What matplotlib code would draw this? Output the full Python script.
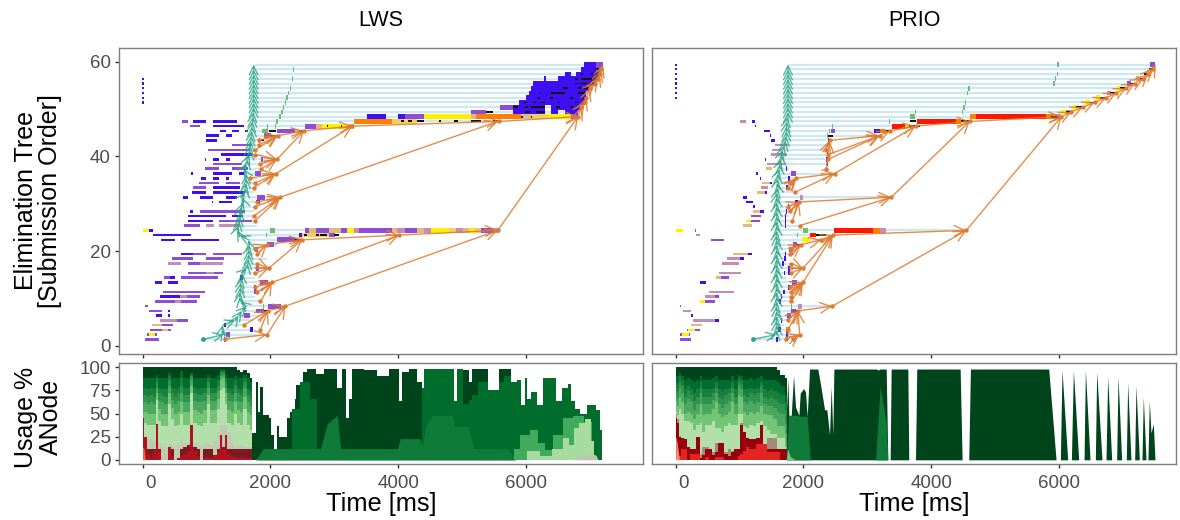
# Gantt of the elimination tree and node usage, LWS against PRIO
import matplotlib
matplotlib.use('Agg')
import matplotlib.pyplot as plt
from matplotlib.transforms import ScaledTranslation

plt.rcParams['font.family'] = ['Liberation Sans', 'DejaVu Sans']

schedulers = ['LWS', 'PRIO']
time_ticks = [0, 2000, 4000, 6000]
tree_ticks = [0, 20, 40, 60]
usage_ticks = [0, 25, 50, 75, 100]

# tasks: row, start ms, end ms, kind
lws_early = [
    (1,37,257,'p'),(2,73,105,'p'),(2,105,194,'y'),(2,194,220,'p'),(3,115,298,'p'),(3,298,393,'t'),(3,393,440,'p'),
    (4,152,298,'t'),(4,298,482,'p'),(5,272,534,'k'),(5,534,717,'p'),(6,209,298,'b'),(6,393,429,'b'),
    (7,105,298,'p'),(7,393,429,'b'),(8,37,89,'p'),(9,194,508,'p'),(9,508,597,'k'),(9,597,859,'p'),
    (10,272,586,'b'),(10,586,691,'k'),(10,691,900,'p'),(11,325,979,'p'),(13,194,298,'b'),(13,393,550,'b'),
    (14,335,430,'p'),(14,430,508,'b'),(14,597,1178,'p'),(15,717,995,'p'),(15,995,1110,'k'),(15,1110,1257,'p'),
    (17,393,597,'k'),(17,707,900,'p'),(17,900,1257,'k'),(18,456,796,'p'),(18,995,1272,'p'),
    (19,597,796,'b'),(19,796,995,'p'),(19,1100,1555,'p'),(22,288,508,'b'),(22,597,1199,'b'),(23,168,754,'b'),
    (24,10,105,'y'),(24,105,168,'b'),(25,654,900,'p'),(25,995,1110,'k'),(25,1199,1529,'k'),
    (26,707,1100,'b'),(26,1199,1712,'p'),(27,717,1304,'b'),(27,1398,1566,'b'),(28,743,796,'b'),(28,900,1607,'p'),
    (30,1094,1105,'b'),(30,1199,1398,'b'),(31,639,707,'b'),(31,900,1100,'b'),(31,1304,1477,'b'),
    (32,780,990,'b'),(32,1100,1607,'b'),(33,796,990,'p'),(33,1100,1519,'b'),(34,885,1199,'p'),(34,1309,1529,'p'),
    (35,916,995,'b'),(35,1100,1199,'b'),(35,1309,1346,'b'),(36,759,796,'b'),(36,1100,1398,'b'),(36,1503,1592,'b'),
    (37,979,1199,'p'),(37,1398,1644,'p'),(38,1100,1555,'p'),(39,979,995,'b'),(39,1100,1199,'b'),(39,1304,1372,'b'),
    (40,1230,1712,'b'),(41,1016,1676,'p'),(42,1398,1712,'p'),(43,995,1162,'b'),(44,995,1199,'b'),(44,1309,1398,'b'),
    (45,1215,1304,'b'),(45,1398,1503,'b'),(45,1597,1644,'b'),(46,743,900,'p'),(46,1100,1581,'b'),
    (47,623,707,'p'),(47,796,995,'b'),(47,1100,1477,'b'),
]
lws_late = [
    (1,1267,1293,'b'),(2,1309,1372,'p'),(3,1686,1723,'b'),(4,1278,1309,'b'),(6,1592,1686,'p'),(7,1780,1895,'p'),
    (8,1958,2173,'p'),(11,1738,1791,'p'),(12,1750,1775,'b'),(13,1843,1963,'p'),(14,1529,1570,'b'),(16,1780,1822,'p'),
    (20,1765,1806,'p'),(21,1948,2063,'p'),(22,2105,2393,'p'),(22,2393,2498,'t'),(23,2456,2498,'b'),(23,2498,2916,'g'),
    (23,2916,3020,'p'),(24,2550,2600,'p'),(24,2600,2707,'t'),(24,2707,2916,'p'),(24,2916,3100,'t'),(24,3100,3204,'p'),
    (24,3204,3309,'y'),(24,3309,3388,'k'),(24,3388,3911,'p'),(24,3911,3990,'t'),(24,3990,4105,'k'),(24,4105,4304,'p'),
    (24,4304,4409,'t'),(24,4409,4514,'k'),(24,4514,4802,'y'),(24,4802,4906,'g'),(24,4906,5011,'k'),(24,5011,5116,'t'),
    (24,5116,5194,'y'),(24,5194,5299,'g'),(24,5299,5482,'p'),(24,5482,5586,'k'),
    (31,1791,1922,'p'),(30,1780,1843,'b'),(36,1765,1859,'p'),(39,1853,1885,'p'),(43,1817,1843,'p'),(44,1895,2010,'p'),
    (45,2105,2393,'p'),(45,2393,2456,'t'),(46,2540,2707,'p'),(46,2707,2812,'t'),(46,2812,3204,'y'),(46,3204,3309,'t'),
    (47,3309,3900,'o'),(47,3900,4300,'g'),(48,3518,3806,'b'),(48,4000,4105,'b'),(48,4105,4409,'p'),(48,4409,5142,'y'),
    (48,5142,5220,'t'),(48,5220,5928,'o'),(48,5928,6084,'t'),(48,6084,6340,'g'),(48,6340,6713,'y'),(48,6713,6817,'p'),
    (49,5142,5381,'p'),(49,5796,6293,'b'),(49,6398,6503,'b'),(49,6608,6817,'b'),(50,5602,5796,'p'),(50,5796,6293,'b'),
    (50,6398,6870,'b'),(51,5901,6922,'b'),(52,6005,6948,'b'),(53,6047,6948,'b'),(54,6084,7001,'b'),(55,6110,7079,'b'),
    (56,6283,6320,'b'),(56,6503,7131,'b'),(57,6608,6712,'b'),(57,6791,7158,'b'),(58,6870,7100,'b'),(58,7100,7184,'p'),
    (59,6912,7100,'b'),(59,7100,7210,'p'),
]
lws_black = [
    (7,1895,1958),(22,2393,2498),(23,2524,2576),(23,2707,2760),(23,2785,2890),(23,2995,3073),(43,1843,1906),(44,2010,2115),
    (45,1974,2089),(45,2456,2540),(46,2890,2905),(46,3100,3126),(46,3246,3262),(47,4047,4100),(47,4152,4225),(47,4304,4409),
    (47,4645,4670),(47,4880,4935),(47,5142,5299),(47,5482,5560),(48,5928,5960),(48,6084,6100),(49,5381,5482),(49,5980,6058),
    (49,6162,6293),(50,5796,5875),(50,5980,6032),(50,6084,6293),(50,6477,6529),(50,6686,6739),(50,6817,6870),(51,5953,6032),
    (51,6110,6162),(51,6215,6293),(51,6503,6529),(51,6765,6817),(52,6189,6230),(52,6372,6424),(52,6686,6739),(52,6843,6895),
    (53,6215,6241),(53,6398,6608),(53,6817,6922),(54,6582,6660),(54,6817,7001),(55,6765,6817),(55,6843,7105),(56,6765,6817),
    (56,6870,7131),(57,6870,6895),(57,7027,7158),(58,7105,7184),
]
lws_dots = [51, 52, 53, 54, 55, 56]
lws_green_marks = [
    (58,2355,2375),(56,2340,2360),(54,2305,2325),(53,2278,2298),(52,2252,2272),(51,2226,2246),(50,2200,2220),(49,2170,2195),
    (48,2130,2170),(47,2095,2115),(46,2070,2090),(46,1950,1970),(45,1870,1958),(24,2000,2079),(23,1925,1945),(8,1885,1905),
]
lws_submit = [953,1267,1241,1257,1450,1503,1555,1623,1529,1518,1529,1529,1539,1555,1555,1634,1649,1660,1660,1660,1676,1660,1518,1477,
              1503,1518,1529,1529,1555,1581,1555,1607,1607,1623,1623,1623,1581,1634,1644,1676,1676,1686,1696,1702,1712,1712,1723,1728,
              1738,1738,1738,1738,1738,1738,1738,1738,1738,1738,1738]
lws_finish = [1293,1948,1712,1581,1738,1843,1948,2210,1843,1765,1791,1765,2026,1765,1791,1948,1791,1948,1738,1791,2105,2471,2995,5561,
              1791,1765,1765,1738,1791,1869,2157,1738,1765,1791,1765,2079,1843,1843,2105,1869,1765,1817,1895,2105,2524,3283,5586,6817,
              6840,6870,6922,6948,6975,7001,7079,7131,7158,7184,7210]
lws_links = [
    (1293,1,1948,2),(1948,2,2236,8),(1581,4,1958,7),(1843,3,1958,7),(1958,7,2236,8),(2236,8,5561,24),(1843,9,2026,13),
    (1791,11,2026,13),(1765,12,2026,13),(2026,13,4016,23),(1765,15,1974,16),(1791,17,1974,16),(1974,16,2498,22),
    (1791,19,1948,21),(1765,20,1948,21),(1948,21,2498,22),(2498,22,4016,23),(4016,23,5561,24),(1757,26,2157,31),
    (1765,29,2157,31),(1791,30,2157,31),(1738,27,2157,31),(2157,31,5561,47),(1738,33,2089,36),(1765,34,2089,36),
    (1686,35,2089,36),(2089,36,3283,46),(1859,37,2105,39),(1843,38,2105,39),(1765,40,2105,39),(2105,39,2524,45),
    (1817,43,2115,44),(1765,41,2115,44),(1817,42,2115,44),(2115,44,2524,45),(2524,45,3283,46),(3283,46,5586,47),
    (5586,47,6817,48),(5561,24,6817,48),(6817,48,6870,50),(6870,50,6922,51),(6922,51,6948,52),(6948,52,7001,54),
    (7001,54,7079,55),(7079,55,7131,56),(7131,56,7158,57),(7158,57,7184,58),(7184,58,7210,59),
]

prio_early = [
    (1,63,245,'p'),(2,63,104,'p'),(2,104,209,'y'),(2,209,230,'p'),(3,183,193,'p'),(3,193,298,'y'),(3,298,386,'p'),
    (4,245,418,'t'),(5,271,611,'k'),(5,611,673,'b'),(6,245,271,'b'),(7,115,245,'k'),(8,63,89,'p'),(9,376,454,'y'),
    (9,454,611,'p'),(10,454,611,'k'),(10,611,673,'p'),(11,517,908,'k'),(13,376,480,'b'),(14,626,715,'t'),(14,715,835,'p'),
    (15,673,1018,'k'),(17,731,987,'k'),(18,809,1002,'k'),(18,1002,1065,'b'),(19,903,1133,'t'),(19,1133,1200,'b'),
    (22,548,752,'p'),(23,313,386,'k'),(24,10,115,'y'),(24,298,324,'p'),(25,1054,1200,'t'),(26,1107,1185,'y'),(26,1185,1326,'p'),
    (27,1174,1336,'p'),(28,1211,1315,'t'),(28,1315,1378,'b'),(29,1211,1237,'b'),(30,1096,1211,'b'),(31,1054,1117,'b'),
    (32,1274,1394,'t'),(32,1394,1430,'b'),(33,1331,1446,'k'),(34,1347,1472,'t'),(34,1472,1514,'b'),(35,1315,1341,'b'),
    (36,1263,1289,'b'),(37,1409,1503,'t'),(38,1436,1707,'k'),(39,1394,1420,'b'),(40,1488,1743,'k'),(41,1503,1670,'k'),
    (42,1550,1754,'k'),(43,1498,1550,'b'),(44,1472,1488,'b'),(45,1378,1472,'b'),(46,1237,1263,'b'),(47,1007,1107,'k'),(47,1195,1248,'b'),
]
prio_late = [
    (1,1576,1608,'b'),(1,1707,1733,'o'),(2,1723,1754,'b'),(3,1603,1644,'b'),(3,1733,1785,'o'),(5,1644,1670,'b'),(6,1749,1801,'p'),
    (7,1811,1890,'p'),(8,1916,1984,'k'),(9,1618,1644,'b'),(10,1644,1665,'b'),(11,1681,1707,'b'),(12,1759,1785,'b'),(13,1827,1900,'p'),
    (15,1691,1717,'b'),(15,1759,1796,'b'),(16,1759,1796,'b'),(16,1796,1837,'t'),(17,1665,1691,'b'),(18,1696,1723,'b'),(19,1707,1733,'b'),
    (20,1775,1837,'p'),(21,1837,1900,'p'),(22,1984,2098,'y'),(23,2098,2203,'r'),(24,2474,3090,'r'),(24,3090,3195,'o'),(24,3195,3289,'k'),
    (25,1707,1723,'b'),(26,1712,1728,'b'),(27,1712,1723,'b'),(28,1723,1738,'b'),(29,1759,1775,'b'),(30,1864,1916,'b'),(31,1942,1994,'k'),
    (32,1723,1733,'b'),(33,1733,1759,'b'),(34,1759,1811,'k'),(35,1759,1796,'b'),(36,1811,1890,'p'),(37,1733,1749,'b'),(38,2370,2380,'b'),
    (39,2359,2375,'b'),(40,2375,2386,'b'),(42,2375,2386,'b'),(43,2386,2402,'b'),(45,2427,2500,'p'),(45,3101,3195,'b'),(45,3195,3299,'o'),
    (46,3388,3586,'r'),(46,3586,3654,'y'),(47,3779,4395,'r'),(47,4395,4473,'o'),(48,4604,4698,'o'),(48,4698,5804,'r'),(48,5804,5909,'o'),
    (48,5909,6040,'k'),(49,6040,6118,'y'),(49,6118,6222,'k'),(50,6222,6300,'y'),(51,6405,6483,'y'),(52,6588,6640,'y'),(53,6755,6823,'k'),
    (54,6912,6979,'y'),(55,7068,7136,'p'),(56,7204,7267,'t'),(57,7397,7425,'t'),(59,7433,7507,'p'),
]
prio_black = [
    (7,1890,1921),(19,1775,1837),(21,1900,1984),(23,2203,2359),(44,2386,2464),(45,3299,3377),(46,3654,3821),(47,3664,3769),(47,4473,4604),
    (48,5883,6040),(49,6118,6222),(50,6275,6405),(51,6457,6561),(52,6640,6744),(53,6797,6901),(54,6953,7058),(55,7110,7188),(56,7267,7319),
    (57,7329,7397),(58,7412,7476),
]
prio_dots = [52, 53, 54, 55, 56, 57, 58, 59]
prio_green_marks = [
    (59,5977,5997),(57,5967,5987),(56,5941,5961),(55,5915,5935),(54,4584,4604),(53,4557,4577),(51,4531,4551),(50,4505,4525),(49,4479,4499),
    (49,3748,3768),(48,3664,3743),(47,3341,3361),(46,2443,2463),(45,2402,2422),(44,2365,2385),(24,1994,2072),(23,1900,1920),(8,1801,1821),
]
prio_submit = [1211,1576,1587,1576,1576,1587,1576,1576,1587,1576,1587,1576,1587,1576,1587,1576,1587,1576,1587,1576,1587,1576,1576,1587,
               1576,1587,1576,1587,1576,1587,1576,1587,1603,1587,1603,1603,1629,1629,1655,1655,1681,1707,1723,1733,1733,1733,1743,1759,
               1759,1759,1759,1759,1759,1759,1759,1759,1759,1759,1759]
prio_finish = [1723,1942,1759,1700,1759,1790,1916,2453,1811,1811,1811,1785,1994,1730,1811,1994,1811,1740,1785,1811,1968,2281,2464,4552,
               1942,1827,1770,1790,1800,1932,3377,1864,1759,1811,1890,2490,1780,2386,2386,2386,2386,2386,2412,3195,3351,3758,4604,6040,
               6196,6379,6561,6744,6901,7058,7188,7320,7398,7476,7517]
prio_links = [
    (1723,1,1942,2),(1837,1,1942,2),(1759,3,1916,7),(1759,5,1916,7),(1942,2,1916,7),(1916,7,2453,8),(2453,8,4552,24),
    (1811,10,1994,13),(1811,9,1994,13),(1785,12,1994,13),(1811,11,1994,13),(1994,13,2464,23),(1811,15,1994,16),(1811,17,1994,16),
    (1994,16,2464,23),(1785,19,1968,21),(1811,20,1968,21),(1968,21,2281,22),(2281,22,2464,23),(2464,23,4552,24),(1827,26,1932,30),
    (1785,28,1932,30),(1759,29,1932,30),(1932,30,3377,31),(1942,25,3377,31),(3377,31,4604,47),(1864,32,2490,36),(1890,35,2490,36),
    (1811,34,1890,35),(1759,33,1890,35),(2490,36,3758,46),(2359,37,2412,43),(2359,41,2412,43),(2386,39,3195,44),(2386,40,3195,44),
    (2412,43,3195,44),(3195,44,3351,45),(3351,45,3758,46),(3758,46,4604,47),(4604,47,6040,48),(4552,24,6040,48),(6040,48,6196,49),
    (6196,49,6379,50),(6379,50,6561,51),(6561,51,6744,52),(6744,52,6901,53),(6901,53,7058,54),(7058,54,7188,55),(7188,55,7320,56),
    (7320,56,7398,57),(7398,57,7476,58),(7476,58,7517,59),
]

# usage %, first 1750 ms: tops of the stacked bands
lws_band_time = [0,39,91,143,185,222,258,310,362,420,467,519,571,613,665,717,769,821,873,926,978,1030,1082,1134,1186,1228,1265,1301,1353,1405,1447,1499,1551,1603,1656,1718]
lws_bright = [45,25,6,2,8,39,8,0,0,14,4,0,2,4,6,10,38,10,4,0,3,3,2,5,8,27,12,27,6,3,3,2,3,2,2,2]
lws_dark = [12,12,12,12,12,12,12,0,0,12,12,0,0,12,14,16,16,14,12,0,12,12,12,4,12,14,14,14,12,12,12,12,12,12,12,12]
lws_grey = [23,23,23,23,20,25,18,14,14,16,16,14,16,23,18,18,30,18,16,14,16,18,16,20,30,38,38,38,30,18,14,16,16,14,14,14]
lws_b1 = [38,40,38,38,38,65,42,36,36,60,44,36,38,50,38,38,72,40,38,36,40,60,40,40,55,75,78,60,40,38,50,40,38,55,38,32]
lws_b2 = [50,52,50,50,50,72,55,50,50,72,56,50,52,62,52,52,80,54,52,50,54,70,54,54,66,86,88,72,54,52,62,54,52,68,52,48]
lws_b3 = [60,62,60,62,60,78,64,62,60,80,65,60,64,72,62,62,86,64,62,62,64,78,64,64,74,90,92,78,64,62,72,64,62,78,62,58]
lws_b4 = [68,70,68,70,68,84,72,70,68,86,72,68,72,80,70,70,90,72,70,70,72,84,72,72,80,94,95,84,72,70,80,72,70,84,70,66]
lws_b5 = [76,78,76,78,76,88,78,76,76,90,78,76,78,88,78,78,92,78,76,78,78,88,78,78,86,96,96,88,78,76,86,78,76,88,76,74]
lws_b6 = [88,88,88,88,88,92,88,88,88,94,88,88,88,96,88,88,94,88,88,88,88,92,88,88,92,98,98,92,88,88,90,88,88,92,88,84]
lws_b7 = [100,100,100,100,100,100,100,100,100,100,100,100,100,100,100,100,100,100,100,100,100,100,100,100,100,100,100,100,100,100,100,97,95,97,94,88]
lws_hot_time = [0,20,40]
lws_hot = [14,12,0]

prio_band_time = [0,31,63,110,162,198,240,292,355,396,438,490,543,595,636,683,735,787,840,892,944,996,1033,1075,1127,1179,1231,1283,1351,1398,1450,1502,1554,1606,1674,1737]
prio_bright = [12,8,4,12,12,0,6,6,6,0,0,3,0,0,3,3,3,0,0,0,0,4,6,10,14,12,12,17,17,17,8,8,8,8,0,0]
prio_dark = [45,40,25,24,23,14,12,12,25,2,5,12,12,5,8,18,18,6,4,8,12,12,38,30,24,22,22,24,38,14,12,12,12,12,12,12]
prio_grey = [50,44,26,24,23,14,12,12,25,6,14,14,12,8,18,18,18,8,12,10,12,12,40,30,24,22,22,24,38,16,24,24,24,12,12,12]
prio_b1 = [52,48,55,50,42,42,40,32,38,40,30,38,38,42,34,34,30,36,40,38,38,50,50,36,34,38,36,40,42,36,32,28,28,24,24,14]
prio_b2 = [62,58,68,62,50,52,50,44,50,60,48,50,50,55,62,50,46,48,52,62,50,70,68,52,48,52,50,52,58,50,48,48,44,36,36,28]
prio_b3 = [70,66,78,72,60,66,62,54,60,72,60,60,60,65,72,60,56,60,64,72,60,80,76,62,60,64,60,62,72,60,58,58,56,52,50,40]
prio_b4 = [78,74,84,80,68,74,70,64,68,78,68,68,68,72,78,68,66,70,72,78,68,84,82,70,68,72,70,72,80,68,66,68,66,62,60,54]
prio_b5 = [84,82,90,86,76,80,76,72,76,84,76,76,76,78,84,76,74,76,78,84,76,88,86,76,76,78,76,78,84,76,74,76,74,72,70,62]
prio_b6 = [90,90,94,90,86,88,86,84,86,90,86,86,86,88,90,86,86,86,86,90,86,92,90,86,86,88,86,88,90,86,86,86,86,84,80,70]
prio_b7 = [100,100,100,100,100,100,100,100,100,100,100,100,100,100,100,100,100,100,100,100,100,100,100,100,100,100,100,100,100,100,100,100,100,97,92,88]
prio_hot_time = [0,20,40,60]
prio_hot = [25,20,10,0]

# usage %, rest of the run
lws_top_time = [1712,1728,1765,1791,1817,1869,1906,1948,2000,2026,2079,2115,2157,2236,2288,2325,2367,2393,2403,2498,2524,2628,2786,2890,2995,3100,3152,3220,3257,3309,3623,3728,3990,4032,4095,4252,4356,4383,4435,4854,4896,4958,5089,5142,5168,5325,5482,5561,5613,5718,5822,5901,5964,6016,6032,6137,6215,6320,6451,6503,6634,6686,6739,6791,6896,7027,7158,7168,7210]
lws_top = [0,29,29,84,52,79,48,48,45,27,12,36,25,25,45,52,39,66,81,81,95,98,93,98,98,77,98,45,66,98,97,90,98,63,95,98,84,77,98,98,64,98,97,84,98,98,75,75,98,98,84,86,59,88,66,73,59,88,88,63,77,82,64,55,50,59,54,32,0]
lws_mid_time = [4356,4383,4435,4854,4896,4958,5089,5142,5168,5325,5482,5561,5613,5718,5822,5901,5964,6016,6032,6137,6215,6320,6451,6503,6634,6686,6739,6791,6896,7027,7158,7168,7210]
lws_mid = [0,77,98,98,64,98,60,65,70,84,75,75,84,90,84,86,59,88,66,73,59,88,88,63,77,82,64,55,50,59,54,32,0]
lws_high_time = [2288,2393,2550,2707,2760,3000]
lws_high = [0,55,84,66,0,0]
lws_low_time = [1765,1895,2157,2786,2890,3048,3100,3204,3990,4032,4340,4383,4435,4535,4854,4880,5089,5194,5482,5561,5718,5840]
lws_low = [0,12,12,12,39,48,12,12,12,23,23,16,36,48,48,36,36,12,12,12,12,0]
lws_bar_time = [1800,1880,2157,5482,5561,5700,5840]
lws_bar = [0,12,12,12,0,12,0]
lws_tail_time = [5800,5830,5987,6144,6250,6354,6511,6642,6825,6982,7090,7120]
lws_tail = [0,12,27,32,18,11,27,45,47,41,5,0]
lws_tail2_time = [5900,6144,6300,6511,6642,6720,6800,6878,6982,7050,7090]
lws_tail2 = [0,10,4,12,24,16,34,40,44,20,5]
lws_tail3_time = [6750,6830,7015,7100,7130]
lws_tail3 = [0,5,5,5,0]

prio_top_time = [1732,1758,1773,1810,1846,1878,1930,1951,2003,2034,2060,2097,2227,2279,2332,2368,2410,2436,2462,2478,3140,3171,3203,3297,3323,3359,3375,3636,3651,3756,3776,4455,4486,4590,4616,5842,5957,6024,6050,6139,6197,6228,6311,6395,6416,6489,6572,6593,6676,6739,6765,6828,6906,6927,6984,7057,7078,7130,7188,7208,7261,7302,7323,7365,7396,7417,7443,7480,7506]
prio_top = [48,88,48,48,91,57,48,72,77,73,47,98,98,77,54,54,27,79,27,98,98,97,98,98,0,0,98,98,0,0,98,98,0,0,98,98,0,0,97,0,0,97,0,0,97,0,0,95,0,0,90,0,0,90,0,0,83,0,0,80,0,0,68,0,0,64,29,39,0]
prio_mid_time = [1732,1770,1880,1960,2060,2110,3130,3203,3297,3323]
prio_mid = [0,48,48,47,47,0,0,79,40,0]
prio_low_time = [1732,1750,1800,1880,1960]
prio_low = [0,12,3,0,0]

colors = {'b': '#3d0ff2', 'p': '#8e4dd6', 'k': '#c48cb8', 't': '#e2b97f', 'y': '#fff200', 'g': '#f0d060', 'o': '#ff7f00', 'r': '#ff1500'}
green_arrow = '#2aa584'
orange_arrow = '#e07a2e'
greens = ['#00441b', '#006d2c', '#1a7f3c', '#2f9350', '#4aa860', '#74c476', '#b2dfaa']


def draw_tree(ax, early, late, black, dots, marks, submit, finish, links):
    rows = list(range(1, 60))
    # rows sit between the integer grid
    y_of = lambda r: r + 0.4
    for r, s, f in zip(rows, submit, finish):
        ax.plot([s, f], [y_of(r), y_of(r)], color='#cfe8ef', lw=1.6, zorder=1, solid_capstyle='butt')
    for r, s, f, k in early:
        ax.barh(y_of(r), f - s, left=s, height=0.55, color=colors[k], lw=0, zorder=2)
    for r, s, f, k in late:
        ax.barh(y_of(r), f - s, left=s, height=1.0, color=colors[k], lw=0, zorder=2)
    for r, s, f in black:
        ax.barh(y_of(r), f - s, left=s, height=0.4, color='#111111', lw=0, zorder=3)
    for r, s, f in marks:
        ax.barh(y_of(r), f - s, left=s, height=1.0, color='#6dbb75', lw=0, zorder=3)
    for r in dots:
        ax.barh(y_of(r), 25, left=-10, height=0.45, color=colors['b'], lw=0, zorder=2)
    head = '->,head_length=0.7,head_width=0.35'
    for i in range(len(rows) - 1):
        ax.annotate('', xy=(submit[i + 1], y_of(rows[i + 1])), xytext=(submit[i], y_of(rows[i])), zorder=4,
                    arrowprops=dict(arrowstyle=head, color=green_arrow, lw=1.0, alpha=0.8, shrinkA=0, shrinkB=0, mutation_scale=9))
    ax.scatter(submit[:1], [y_of(1)], s=12, color=green_arrow, lw=0, zorder=4)
    for x0, r0, x1, r1 in links:
        ax.annotate('', xy=(x1, y_of(r1)), xytext=(x0, y_of(r0)), zorder=5,
                    arrowprops=dict(arrowstyle=head, color=orange_arrow, lw=1.0, alpha=0.85, shrinkA=0, shrinkB=0, mutation_scale=11))
    ax.scatter([l[0] for l in links], [y_of(l[1]) for l in links], s=10, color=orange_arrow, lw=0, zorder=5)


def draw_usage(ax, t, bands, band_colors):
    # bands go from the highest top to the lowest, painted over each other
    for top, c in zip(bands, band_colors):
        ax.fill_between(t, 0, top, color=c, lw=0, step='mid')


fig = plt.figure(figsize=(11.8, 5.2), dpi=100)
W, H = 1180.0, 520.0
lefts = [119, 652]
width = 524
axes_top = []
axes_bottom = []
for l in lefts:
    axes_top.append(fig.add_axes([l / W, 1 - 354 / H, width / W, 306 / H]))
    axes_bottom.append(fig.add_axes([l / W, 1 - 464 / H, width / W, 101 / H]))

draw_tree(axes_top[0], lws_early, lws_late, lws_black, lws_dots, lws_green_marks, lws_submit, lws_finish, lws_links)
draw_tree(axes_top[1], prio_early, prio_late, prio_black, prio_dots, prio_green_marks, prio_submit, prio_finish, prio_links)

ax = axes_bottom[0]
draw_usage(ax, lws_band_time, [lws_b7, lws_b6, lws_b5, lws_b4, lws_b3, lws_b2, lws_b1, lws_grey, lws_dark, lws_bright],
           greens + ['#c2c9b0', '#7c1a24', '#b3121c'])
ax.fill_between(lws_hot_time, 0, lws_hot, color='#fb6a4a', lw=0)
ax.fill_between(lws_top_time, 0, lws_top, color='#00441b', lw=0, step='mid')
ax.fill_between(lws_high_time, 0, lws_high, color='#006d2c', lw=0, step='mid')
ax.fill_between(lws_mid_time, 0, lws_mid, color='#006d2c', lw=0, step='mid')
ax.fill_between(lws_low_time, 0, lws_low, color='#107a38', lw=0)
ax.fill_between(lws_bar_time, 0, lws_bar, color='#107a38', lw=0)
ax.fill_between(lws_tail_time, 0, lws_tail, color='#41ab5d', lw=0, step='mid')
ax.fill_between(lws_tail2_time, 0, lws_tail2, color='#a8dba0', lw=0, step='mid')
ax.fill_between(lws_tail3_time, 0, lws_tail3, color='#bdc7ae', lw=0)

ax = axes_bottom[1]
draw_usage(ax, prio_band_time, [prio_b7, prio_b6, prio_b5, prio_b4, prio_b3, prio_b2, prio_b1, prio_grey, prio_dark, prio_bright],
           greens + ['#a58a7c', '#99000d', '#e32420'])
ax.fill_between(prio_hot_time, 0, prio_hot, color='#fb8a6a', lw=0)
ax.fill_between(prio_top_time, 0, prio_top, color='#00441b', lw=0)
ax.fill_between(prio_mid_time, 0, prio_mid, color='#107a38', lw=0)
ax.fill_between(prio_low_time, 0, prio_low, color='#74c476', lw=0)

for ax in axes_top + axes_bottom:
    ax.set_xlim(-370, 7835)
    ax.set_xticks(time_ticks)
    ax.tick_params(length=3, width=1, color='#333333', labelcolor='#4d4d4d', labelsize=13.5, pad=3)
    for s in ax.spines.values():
        s.set_color('#7f7f7f')
        s.set_linewidth(1)
for ax in axes_top:
    ax.set_ylim(-1.7, 62.9)
    ax.set_yticks(tree_ticks)
    ax.set_xticklabels([])
for ax in axes_bottom:
    ax.set_ylim(-4.5, 104.5)
    ax.set_yticks(usage_ticks)
    ax.tick_params(axis='x', pad=5)
    ax.set_xlabel('Time [ms]', fontsize=18.3, labelpad=0)
    # the 0 label sits a little right of its tick
    zero = ax.get_xticklabels()[0]
    zero.set_transform(zero.get_transform() + ScaledTranslation(6 / 72, 0, fig.dpi_scale_trans))
for ax in [axes_top[1], axes_bottom[1]]:
    ax.tick_params(axis='y', left=False, labelleft=False)
for ax, name in zip(axes_top, schedulers):
    ax.set_title(name, fontsize=15.5, pad=16)

fig.text(38 / W, 1 - 201 / H, 'Elimination Tree\n[Submission Order]', rotation=90, ha='center', va='center', fontsize=18, linespacing=1.05)
fig.text(38 / W, 1 - 417 / H, 'Usage %\nANode', rotation=90, ha='center', va='center', fontsize=18, linespacing=1.05)

fig.savefig('out.png', dpi=100)
